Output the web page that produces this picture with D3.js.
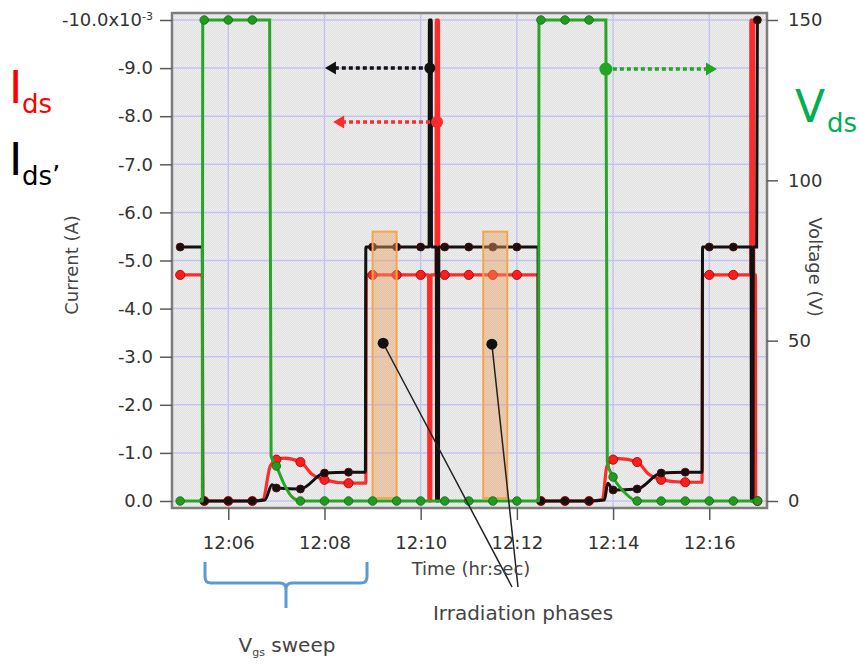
<!DOCTYPE html>
<html>
<head>
<meta charset="utf-8">
<script src="https://cdnjs.cloudflare.com/ajax/libs/d3/7.8.5/d3.min.js"></script>
<style>
    body { margin: 0; background: #fff; }
    svg text { font-family: "DejaVu Sans", sans-serif; }
</style>
</head>
<body>
<div id="chart"></div>
<script>

// ---- data: time in minutes after 12:00, current in mA, voltage in V ----

// one marker every 30 s
const sampleTimes = [5.0, 5.5, 6.0, 6.5, 7.0, 7.5, 8.0, 8.5, 9.0, 9.5, 10.0, 10.5, 11.0,
    11.5, 12.0, 12.5, 13.0, 13.5, 14.0, 14.5, 15.0, 15.5, 16.0, 16.5, 17.0];

const idsMarks = [-4.7, 0, 0, 0, -0.86, -0.81, -0.44, -0.37, -4.7, -4.7, -4.7, -4.7, -4.7,
    -4.7, -4.7, 0, 0, 0, -0.86, -0.81, -0.44, -0.39, -4.7, -4.7, 0];

const idsPrimeMarks = [-5.28, 0, 0, 0, -0.27, -0.25, -0.58, -0.60, -5.28, -5.28, -5.28, -5.28, -5.28,
    -5.28, -5.28, 0, 0, 0, -0.23, -0.25, -0.58, -0.60, -5.28, -5.28, -10];

const vdsMarks = [0, 150, 150, 150, 10.9, 0, 0, 0, 0, 0, 0, 0, 0,
    0, 0, 150, 150, 150, 7.5, 0, 0, 0, 0, 0, 0];

// points of the traces between markers (fast steps, spikes, bumps)
const idsEdges = [[5.46, -4.7], [5.47, 0], [6.72, -0.03], [6.87, -0.72], [7.15, -0.89], [7.75, -0.55],
    [8.86, -0.37], [8.87, -4.7], [10.165, -4.7], [10.17, 0], [10.21, 0], [10.215, -4.7],
    [10.32, -4.7], [10.325, -10], [10.37, -10], [10.375, -4.7], [12.44, -4.7], [12.45, 0],
    [13.78, -0.03], [13.87, -0.72], [14.12, -0.88], [14.75, -0.55], [15.85, -0.39], [15.86, -4.7],
    [16.86, -4.7], [16.865, -10], [16.92, -10], [16.925, -4.7], [16.96, -4.7], [16.965, 0]];

const idsPrimeEdges = [[5.46, -5.28], [5.47, 0], [6.76, -0.02], [6.91, -0.34], [8.85, -0.60], [8.86, -5.28],
    [10.175, -5.28], [10.18, -10], [10.22, -10], [10.225, -5.28], [10.325, -5.28], [10.33, 0],
    [10.37, 0], [10.375, -5.28], [12.44, -5.28], [12.45, 0], [13.82, -0.02], [13.89, -0.37],
    [15.85, -0.60], [15.86, -5.28], [16.87, -5.28], [16.875, 0], [16.91, 0], [16.915, -5.28],
    [16.985, -5.28]];

const vdsEdges = [[5.46, 0], [5.47, 150], [6.86, 150], [6.89, 14], [7.15, 5.6], [7.33, 1.2],
    [12.45, 0], [12.46, 150], [13.85, 150], [13.88, 12], [14.25, 2.5]];

const timeTicks = [6, 8, 10, 12, 14, 16];
const currentTicks = [0, -1, -2, -3, -4, -5, -6, -7, -8, -9, -10];
const voltageTicks = [0, 50, 100, 150];

// irradiation windows [start, end] in minutes, box height in mA
const irradiation = [[9.0, 9.5], [11.3, 11.8]];
const irradiationRange = [-0.06, -5.6];
const irradiationDots = [[9.22, -3.28], [11.48, -3.26]];

// axis hint arrows: [minute, value] start and arrow tip
const idsPrimeArrow = [[10.19, -9.0], [8.01, -9.0]];
const idsArrow = [[10.34, -7.88], [8.18, -7.88]];
const vdsArrow = [[13.85, 134.7], [16.16, 134.7]];


class TraceChart {
    constructor(parentElement) {
        this.parentElement = parentElement;
        this.initVis();
    }

    initVis() {
        let vis = this;

        vis.margin = {top: 13, right: 93, bottom: 156, left: 172};
        vis.width = 860 - vis.margin.left - vis.margin.right;
        vis.height = 664 - vis.margin.top - vis.margin.bottom;

        vis.svg = d3.select("#" + vis.parentElement).append("svg")
            .attr("width", 860)
            .attr("height", 664);

        vis.g = vis.svg.append("g")
            .attr("transform", "translate(" + vis.margin.left + "," + vis.margin.top + ")");

        vis.at = m => new Date(2000, 0, 1, 12, 0, 0, Math.round(m * 60000));

        // Scales
        vis.x = d3.scaleTime()
            .domain([vis.at(4.83), vis.at(17.20)])
            .range([0, vis.width]);
        vis.yI = d3.scaleLinear()
            .domain([0.1455, -10.1455])
            .range([vis.height, 0]);
        vis.yV = d3.scaleLinear()
            .domain([-2.183, 152.183])
            .range([vis.height, 0]);

        // textured grey plot background
        let defs = vis.svg.append("defs");
        let pat = defs.append("pattern")
            .attr("id", "tex")
            .attr("width", 2).attr("height", 2)
            .attr("patternUnits", "userSpaceOnUse");
        pat.append("rect").attr("width", 2).attr("height", 2).attr("fill", "#efefef");
        pat.append("rect").attr("width", 1).attr("height", 1).attr("fill", "#e0e0e0");
        pat.append("rect").attr("x", 1).attr("y", 1).attr("width", 1).attr("height", 1).attr("fill", "#e0e0e0");

        defs.append("clipPath").attr("id", "plotClip")
            .append("rect")
            .attr("width", vis.width)
            .attr("height", vis.height);

        vis.g.append("rect")
            .attr("width", vis.width)
            .attr("height", vis.height)
            .attr("fill", "url(#tex)");

        vis.wrangleData();
    }

    wrangleData() {
        let vis = this;

        // markers + in-between points, in time order
        let build = (marks, edges) => sampleTimes.map((t, i) => [t, marks[i]])
            .concat(edges)
            .sort((a, b) => a[0] - b[0]);

        vis.ids = build(idsMarks, idsEdges);
        vis.idsPrime = build(idsPrimeMarks, idsPrimeEdges);
        vis.vds = build(vdsMarks, vdsEdges);

        vis.updateVis();
    }

    updateVis() {
        let vis = this;

        // Grid
        let grid = vis.g.append("g").attr("class", "grid");
        grid.selectAll(".vgrid")
            .data(timeTicks)
            .enter().append("line")
            .attr("x1", d => vis.x(vis.at(d)))
            .attr("x2", d => vis.x(vis.at(d)))
            .attr("y1", 0).attr("y2", vis.height)
            .attr("stroke", "#c4c4f2").attr("stroke-width", 1.5);
        grid.selectAll(".hgrid")
            .data(currentTicks)
            .enter().append("line")
            .attr("x1", 0).attr("x2", vis.width)
            .attr("y1", d => vis.yI(d))
            .attr("y2", d => vis.yI(d))
            .attr("stroke", "#c4c4f2").attr("stroke-width", 1.5);

        let plot = vis.g.append("g").attr("clip-path", "url(#plotClip)");

        let traceI = d3.line()
            .x(d => vis.x(vis.at(d[0])))
            .y(d => vis.yI(d[1]))
            .curve(d3.curveMonotoneX);
        let traceV = d3.line()
            .x(d => vis.x(vis.at(d[0])))
            .y(d => vis.yV(d[1]))
            .curve(d3.curveMonotoneX);

        // Ids (red)
        plot.append("path")
            .datum(vis.ids)
            .attr("d", traceI)
            .attr("fill", "none")
            .attr("stroke", "#ff2b2b")
            .attr("stroke-width", 3.2);
        plot.selectAll(".dotIds")
            .data(sampleTimes.map((t, i) => [t, idsMarks[i]]))
            .enter().append("circle")
            .attr("cx", d => vis.x(vis.at(d[0])))
            .attr("cy", d => vis.yI(d[1]))
            .attr("r", 4.6)
            .attr("fill", "#ff1c1c")
            .attr("stroke", "#a30000").attr("stroke-width", 0.8);

        // Ids' (black)
        plot.append("path")
            .datum(vis.idsPrime)
            .attr("d", traceI)
            .attr("fill", "none")
            .attr("stroke", "#111")
            .attr("stroke-width", 3);
        plot.selectAll(".dotIdsPrime")
            .data(sampleTimes.map((t, i) => [t, idsPrimeMarks[i]]))
            .enter().append("circle")
            .attr("cx", d => vis.x(vis.at(d[0])))
            .attr("cy", d => vis.yI(d[1]))
            .attr("r", 4)
            .attr("fill", "#111")
            .attr("stroke", "#6a0000").attr("stroke-width", 0.8);

        // irradiation boxes
        plot.selectAll(".irr")
            .data(irradiation)
            .enter().append("rect")
            .attr("x", d => vis.x(vis.at(d[0])))
            .attr("width", d => vis.x(vis.at(d[1])) - vis.x(vis.at(d[0])))
            .attr("y", vis.yI(irradiationRange[1]))
            .attr("height", vis.yI(irradiationRange[0]) - vis.yI(irradiationRange[1]))
            .attr("fill", "#e9a062").attr("fill-opacity", 0.45)
            .attr("stroke", "#f6a649").attr("stroke-width", 2);

        // Vds (green)
        plot.append("path")
            .datum(vis.vds)
            .attr("d", traceV)
            .attr("fill", "none")
            .attr("stroke", "#26a526")
            .attr("stroke-width", 3);
        plot.selectAll(".dotVds")
            .data(sampleTimes.map((t, i) => [t, vdsMarks[i]]))
            .enter().append("circle")
            .attr("cx", d => vis.x(vis.at(d[0])))
            .attr("cy", d => vis.yV(d[1]))
            .attr("r", 4.3)
            .attr("fill", "#1f9b1f")
            .attr("stroke", "#0c6e0c").attr("stroke-width", 0.8);

        // frame
        vis.g.append("rect")
            .attr("width", vis.width)
            .attr("height", vis.height)
            .attr("fill", "none")
            .attr("stroke", "#7d7d7d")
            .attr("stroke-width", 2.5);

        // Axes
        let xAxis = d3.axisBottom(vis.x)
            .tickValues(timeTicks.map(vis.at))
            .tickFormat(d3.timeFormat("%H:%M"))
            .tickSize(12)
            .tickPadding(16);
        let yAxisL = d3.axisLeft(vis.yI)
            .tickValues(currentTicks)
            .tickFormat(d => d.toFixed(1))
            .tickSize(12)
            .tickPadding(7);
        let yAxisR = d3.axisRight(vis.yV)
            .tickValues(voltageTicks)
            .tickFormat(d3.format("d"))
            .tickSize(11)
            .tickPadding(10);

        let gx = vis.g.append("g").attr("transform", "translate(0," + vis.height + ")").call(xAxis);
        let gl = vis.g.append("g").call(yAxisL);
        let gr = vis.g.append("g").attr("transform", "translate(" + vis.width + ",0)").call(yAxisR);

        [gx, gl, gr].forEach(a => {
            a.select(".domain").remove();
            a.selectAll(".tick line").attr("stroke", "#5a5a5a").attr("stroke-width", 1.5);
            a.selectAll(".tick text")
                .attr("font-family", "DejaVu Sans")
                .attr("font-size", 18)
                .attr("fill", "#333");
        });

        // top label carries the exponent
        gl.selectAll(".tick text")
            .filter(d => d === -10)
            .text(null)
            .call(t => {
                t.append("tspan").text("-10.0x10");
                t.append("tspan").attr("dy", "-0.55em").attr("font-size", 11).text("-3");
            });

        // Axis titles
        vis.svg.append("text")
            .attr("transform", "translate(78,265) rotate(-90)")
            .attr("text-anchor", "middle")
            .attr("font-size", 18).attr("fill", "#444")
            .text("Current (A)");
        vis.svg.append("text")
            .attr("transform", "translate(809,267) rotate(90)")
            .attr("text-anchor", "middle")
            .attr("font-size", 18).attr("fill", "#444")
            .text("Voltage (V)");
        vis.svg.append("text")
            .attr("x", 471).attr("y", 575)
            .attr("text-anchor", "middle")
            .attr("font-size", 18).attr("fill", "#444")
            .text("Time (hr:sec)");

        vis.drawAnnotations();
    }

    drawAnnotations() {
        let vis = this;
        let ann = vis.g.append("g");
        let px = m => vis.x(vis.at(m));

        // dotted hint arrows towards the axis of each trace
        let arrow = (a, scale, color, r) => {
            let x0 = px(a[0][0]), x1 = px(a[1][0]), y = scale(a[0][1]);
            let dir = x1 < x0 ? 1 : -1;
            ann.append("line")
                .attr("x1", x0).attr("x2", x1 + dir * 10)
                .attr("y1", y).attr("y2", y)
                .attr("stroke", color).attr("stroke-width", 3.5)
                .attr("stroke-dasharray", "4,3");
            ann.append("path")
                .attr("d", "M" + x1 + "," + y + "L" + (x1 + dir * 11) + "," + (y - 6.5) + "L" + (x1 + dir * 11) + "," + (y + 6.5) + "Z")
                .attr("fill", color);
            ann.append("circle")
                .attr("cx", x0).attr("cy", y).attr("r", r)
                .attr("fill", color);
        };
        arrow(idsPrimeArrow, vis.yI, "#111", 5.5);
        arrow(idsArrow, vis.yI, "#ff2b2b", 6);
        arrow(vdsArrow, vis.yV, "#22a622", 6.5);

        // irradiation pointers
        let ends = [[512, 587], [518, 587]];
        irradiationDots.forEach((d, i) => {
            ann.append("line")
                .attr("x1", px(d[0])).attr("y1", vis.yI(d[1]))
                .attr("x2", ends[i][0] - vis.margin.left).attr("y2", ends[i][1] - vis.margin.top)
                .attr("stroke", "#222").attr("stroke-width", 1.5);
            ann.append("circle")
                .attr("cx", px(d[0])).attr("cy", vis.yI(d[1])).attr("r", 5.5)
                .attr("fill", "#111");
        });

        vis.svg.append("text")
            .attr("x", 523).attr("y", 620)
            .attr("text-anchor", "middle")
            .attr("font-size", 20).attr("fill", "#444")
            .text("Irradiation phases");

        // Vgs sweep brace
        vis.svg.append("path")
            .attr("d", "M205,562V577Q205,583 211,583H280Q286,583 286,589V608M367,562V577Q367,583 361,583H292Q286,583 286,589")
            .attr("fill", "none")
            .attr("stroke", "#5b9bd5")
            .attr("stroke-width", 3);

        let vgs = vis.svg.append("text")
            .attr("x", 287).attr("y", 652)
            .attr("text-anchor", "middle")
            .attr("font-size", 20).attr("fill", "#444");
        vgs.append("tspan").text("V");
        vgs.append("tspan").attr("font-size", 11).attr("dy", 4).text("gs");
        vgs.append("tspan").attr("dy", -4).text(" sweep");

        // trace names
        let name = (x, y, big, sub, color, bigSize, subX, subY) => {
            vis.svg.append("text").attr("x", x).attr("y", y)
                .attr("font-size", bigSize).attr("fill", color).text(big);
            vis.svg.append("text").attr("x", subX).attr("y", subY)
                .attr("font-size", 26).attr("fill", color).text(sub);
        };
        name(9, 103, "I", "ds", "#ff0000", 45, 22, 113);
        name(9, 175, "I", "ds\u2019", "#000", 45, 22, 185);
        name(795, 122, "V", "ds", "#00b050", 44, 827, 132);
    }
}

new TraceChart("chart");

</script>
</body>
</html>
